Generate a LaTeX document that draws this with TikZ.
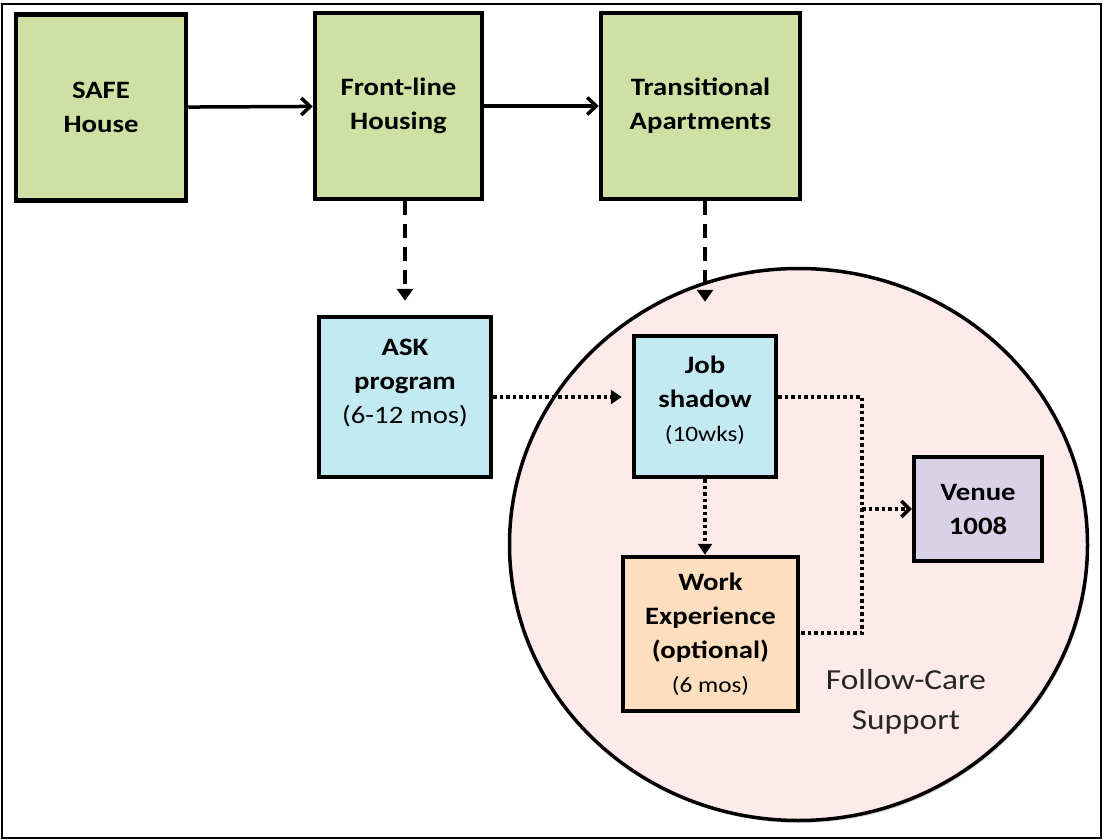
\documentclass[tikz,border=0pt]{standalone}
\usepackage{fontspec}
\setmainfont{Carlito}[FakeStretch=1.15]
\usetikzlibrary{arrows.meta,shadows}

\begin{document}
\begin{tikzpicture}[x=1pt,y=-1pt,
    stagebox/.style={draw=black,line width=4.5pt,align=center,inner sep=0pt,
        font=\fontsize{25}{34}\selectfont\bfseries,
        drop shadow={opacity=0.25,shadow xshift=1.5pt,shadow yshift=-2pt}},
    solidarr/.style={line width=3.5pt,-{Straight Barb[length=9pt,width=17pt]}},
    dasharr/.style={line width=3.5pt,dash pattern=on 14pt off 9pt,
        -{Triangle[length=12pt,width=16pt]}},
    dotline/.style={line width=3.5pt,dash pattern=on 3.5pt off 3pt},
    dotarr/.style={dotline,-{Triangle[length=11pt,width=14pt]}}]
    \definecolor{stagegreen}{HTML}{D0E0A5}
    \definecolor{stageblue}{HTML}{C3E9F3}
    \definecolor{stagepurple}{HTML}{D8D1E8}
    \definecolor{stageorange}{HTML}{FDDFC0}
    \definecolor{carepink}{HTML}{FEEAEA}

    \useasboundingbox (0,0) rectangle (1104,840);
    \draw[line width=1.5pt] (2,4) rectangle (1101,838);

% follow-care circle
    \fill[carepink,draw=black,line width=3.5pt,
        drop shadow={opacity=0.3,shadow xshift=1.5pt,shadow yshift=-2.5pt}]
        (798.5,544.5) ellipse (289 and 276);
    \node[font=\fontsize{29}{40}\selectfont,text=black!85,align=center]
        (care) at (906,702) {Follow-Care\\Support};

% housing row
    \node[stagebox,fill=stagegreen,minimum width=170pt,minimum height=186pt]
        (safe) at (101,107.5) {SAFE\\House};
    \node[stagebox,fill=stagegreen,minimum width=167pt,minimum height=186pt]
        (front) at (398.5,106) {Front-line\\Housing};
    \node[stagebox,fill=stagegreen,minimum width=199pt,minimum height=186pt]
        (trans) at (700.5,106) {Transitional\\Apartments};

% work row
    \node[stagebox,fill=stageblue,minimum width=172pt,minimum height=160pt]
        (ask) at (405,397) {ASK\\program\\{\mdseries (6-12 mos)}\\[-3pt]\mbox{}};
    \node[stagebox,fill=stageblue,minimum width=142pt,minimum height=141pt]
        (js) at (705,406.5) {Job\\shadow\\{\mdseries\fontsize{22}{26}\selectfont (10wks)}\\[-18pt]\mbox{}};
    \node[stagebox,fill=stagepurple,minimum width=128pt,minimum height=104pt]
        (venue) at (978,509) {Venue\\1008};
    \node[stagebox,fill=stageorange,minimum width=175pt,minimum height=154pt]
        (we) at (710.5,634) {Work\\Experience\\(optional)\\{\mdseries\fontsize{22}{26}\selectfont (6 mos)}};

    \coordinate (jt) at (862,397);
    \coordinate (jb) at (862,633);

% arrows
    \draw[solidarr] (safe) -- (front);
    \draw[solidarr] (front) -- (trans);
    \draw[dasharr,shorten >=14pt] (ask.north |- front.south) -- (ask.north);
    \draw[dasharr,shorten >=32pt] (js.north |- trans.south) -- (js.north);
    \draw[dotarr,shorten >=10pt] (ask.east) -- (ask.east -| js.west);
    \draw[dotline] (ask.east -| js.east) -- (jt) -- (jb) -- (jb -| we.east);
    \draw[dotline,-{Straight Barb[length=8pt,width=16pt]}] (jt |- venue.west) -- (venue.west);
    \draw[dotarr] (js.south) -- (js.south |- we.north);
\end{tikzpicture}
\end{document}
